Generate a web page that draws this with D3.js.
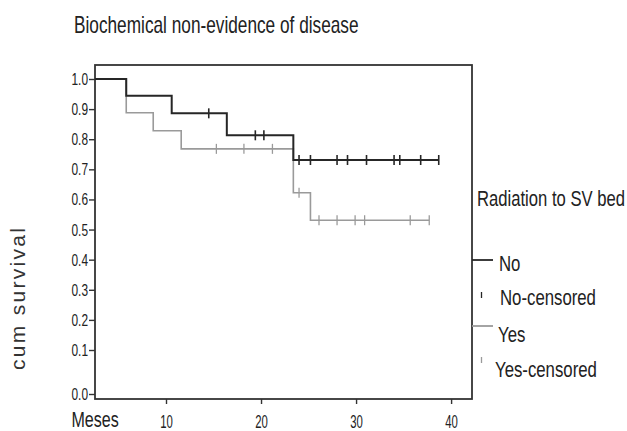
<!DOCTYPE html>
<html>
  <head>
    <meta charset="UTF-8">
    <title>Biochemical non-evidence of disease</title>
    <script src="https://d3js.org/d3.v7.min.js"></script>
    <style>
      body { margin: 0; background: #fff; }
      text { font-family: "Liberation Sans", Arial, sans-serif; fill: #222; }
    </style>
  </head>

  <body>
    <div class="chart"></div>

    <script type="application/javascript">
      // survival steps: [time in months, survival after that time]
      const noSteps = [[0, 1.0], [4.4, 0.944], [10.6, 0.886], [16.4, 0.813], [23.4, 0.731], [38.7, 0.731]];
      const noCensored = [14.5, 19.4, 20.3, 24.0, 25.2, 28.0, 29.1, 31.1, 34.0, 34.6, 36.8, 38.7];
      const yesSteps = [[0, 1.0], [4.4, 0.888], [8.2, 0.828], [11.6, 0.768], [23.4, 0.622], [25.2, 0.531], [37.7, 0.531]];
      const yesCensored = [15.3, 18.2, 21.2, 24.0, 26.1, 28.0, 29.9, 30.9, 35.7, 37.7];
      const yTicks = [0.0, 0.1, 0.2, 0.3, 0.4, 0.5, 0.6, 0.7, 0.8, 0.9, 1.0];
      const xTicks = [10, 20, 30, 40];
      const legendItems = ["No", "No-censored", "Yes", "Yes-censored"];

      const width = 627, height = 431;
      const svg = d3.select(".chart").append("svg")
              .attr("width", width)
              .attr("height", height)

      const pLeft = 95, pRight = 472, pTop = 65, pBottom = 399;

      // the original uses a tall narrow face; squeeze Liberation Sans around its anchor
      function condense(sel, k) {
        sel.each(function () {
          const t = d3.select(this);
          const tx = +t.attr("x") || 0, ty = +t.attr("y") || 0;
          t.attr("x", 0).attr("y", 0)
                  .attr("transform", `translate(${tx},${ty}) scale(${k},1)`);
        });
      }

      // the printed axes are not quite evenly spaced, so use piecewise scales
      const x = d3.scaleLinear().domain([0, 10, 42.2]).range([pLeft, 166, pRight]);
      const y = d3.scaleLinear().domain([0, 0.1, 1]).range([394, 350, 79]);

      const noColor = "#262626", yesColor = "#9a9a9a";

      svg.append("text")
              .attr("x", 74).attr("y", 33)
              .attr("font-size", 23)
              .text("Biochemical non-evidence of disease")
              .call(condense, 0.75)

      // frame
      svg.append("rect")
              .attr("x", pLeft).attr("y", pTop)
              .attr("width", pRight - pLeft).attr("height", pBottom - pTop)
              .attr("fill", "none").attr("stroke", "#333").attr("stroke-width", 1.8)

      const yAxis = d3.axisLeft(y).tickValues(yTicks).tickFormat(d3.format(".1f"))
              .tickSize(6).tickPadding(1);
      const yg = svg.append("g").attr("transform", `translate(${pLeft},0)`).call(yAxis);
      yg.select(".domain").remove();
      yg.selectAll("line").attr("stroke", "#333").attr("stroke-width", 1.4);
      yg.selectAll("text").attr("font-size", 17).attr("font-family", null).attr("fill", "#333")
              .call(condense, 0.7);

      const xAxis = d3.axisBottom(x).tickValues(xTicks).tickSize(5).tickPadding(12);
      const xg = svg.append("g").attr("transform", `translate(0,${pBottom})`).call(xAxis);
      xg.select(".domain").remove();
      xg.selectAll("line").attr("stroke", "#333").attr("stroke-width", 1.4);
      xg.selectAll("text").attr("font-size", 17.5).attr("font-family", null).attr("fill", "#333")
              .call(condense, 0.65);

      svg.append("text")
              .attr("x", 71.5).attr("y", 426.5)
              .attr("font-size", 22)
              .text("Meses")
              .call(condense, 0.73)

      svg.append("text")
              .attr("transform", "translate(25,299) rotate(-90)")
              .attr("text-anchor", "middle")
              .attr("font-size", 21)
              .attr("textLength", 142)
              .attr("lengthAdjust", "spacing")
              .style("fill", "#333")
              .text("cum survival")

      const line = d3.line().x(d => x(d[0])).y(d => y(d[1])).curve(d3.curveStepAfter);

      function drawCurve(steps, censored, color, w) {
        svg.append("path")
                .datum(steps)
                .attr("d", line)
                .attr("fill", "none")
                .attr("stroke", color)
                .attr("stroke-width", w)
        function valueAt(t) {
          let v = 1;
          steps.forEach(s => { if (s[0] <= t) v = s[1]; });
          return v;
        }
        svg.append("g").selectAll("line")
                .data(censored)
                .join("line")
                .attr("x1", d => x(d)).attr("x2", d => x(d))
                .attr("y1", d => y(valueAt(d)) - 5)
                .attr("y2", d => y(valueAt(d)) + 5)
                .attr("stroke", color)
                .attr("stroke-width", w * 0.8)
      }

      drawCurve(yesSteps, yesCensored, yesColor, 1.6);
      drawCurve(noSteps, noCensored, noColor, 2);

      // legend
      svg.append("text")
              .attr("x", 477).attr("y", 206)
              .attr("font-size", 22.5)
              .text("Radiation to SV bed")
              .call(condense, 0.74)

      const legendY = [271, 305, 342, 377];
      const legendX = [499, 500, 498, 495];
      const legendColor = [noColor, noColor, yesColor, yesColor];
      const markY = [260, 295, 326, 360];
      legendItems.forEach((name, i) => {
        if (i % 2 == 0) {
          svg.append("line")
                  .attr("x1", pRight).attr("x2", pRight + 21)
                  .attr("y1", markY[i]).attr("y2", markY[i])
                  .attr("stroke", legendColor[i]).attr("stroke-width", 1.8)
        } else {
          svg.append("line")
                  .attr("x1", 481.5).attr("x2", 481.5)
                  .attr("y1", markY[i] - 3).attr("y2", markY[i] + 3)
                  .attr("stroke", legendColor[i]).attr("stroke-width", 1.3)
        }
        svg.append("text")
                .attr("x", legendX[i]).attr("y", legendY[i])
                .attr("font-size", 21.5)
                .text(name)
                .call(condense, 0.78)
      })
    </script>
  </body>

</html>
